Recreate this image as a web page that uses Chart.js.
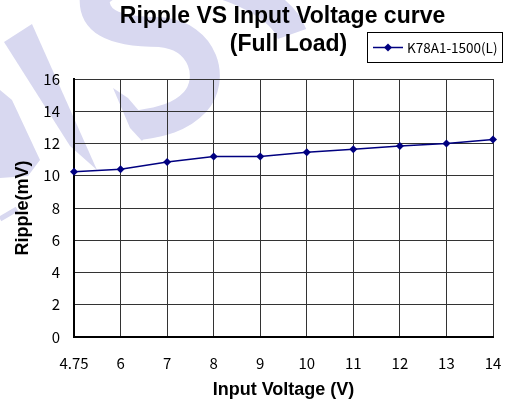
<!DOCTYPE html>
<html>
<head>
<meta charset="utf-8">
<script src="https://cdn.jsdelivr.net/npm/chart.js@4"></script>
<style>
  html, body { margin: 0; padding: 0; background: #fff; }
  #wrap { width: 506px; height: 404px; position: relative; }
</style>
</head>
<body>
<div id="wrap"><canvas id="myChart"></canvas></div>
<script>
// data
const voltages = ["4.75", "6", "7", "8", "9", "10", "11", "12", "13", "14"];
const ripple = [10.25, 10.4, 10.85, 11.2, 11.2, 11.45, 11.65, 11.85, 12.0, 12.25];
const yTicks = [0, 2, 4, 6, 8, 10, 12, 14, 16];
const seriesName = "K78A1-1500(L)";
const titleLines = ["Ripple VS Input Voltage curve", "(Full Load)"];
const xTitle = "Input Voltage (V)";
const yTitle = "Ripple(mV)";

const navy = "#000080";
const tickFont = { family: "'Noto Sans CJK JP', 'Noto Sans', sans-serif", size: 15 };

// faint "VS" watermark behind the chart
const watermarkPlugin = {
    id: "watermark",
    beforeDraw(chart) {
        const c = chart.ctx;
        c.save();
        c.fillStyle = "#d8d8f0";
        c.strokeStyle = "#d8d8f0";

        // V strokes
        c.beginPath();
        c.moveTo(4, 42); c.lineTo(32, 24); c.lineTo(97, 170); c.lineTo(70, 146);
        c.closePath(); c.fill();
        c.beginPath();
        c.moveTo(0, 90); c.lineTo(12, 100); c.lineTo(40, 160); c.lineTo(28, 176); c.lineTo(0, 178);
        c.closePath(); c.fill();
        c.lineWidth = 5;
        c.beginPath(); c.moveTo(0, 219); c.lineTo(17, 209); c.stroke();

        // S stroke
        c.lineWidth = 30;
        c.lineCap = "butt";
        c.beginPath();
        c.moveTo(292, 34);
        c.bezierCurveTo(275, -15, 140, -50, 95, -5);
        c.bezierCurveTo(92, 20, 110, 32, 160, 32);
        c.bezierCurveTo(205, 36, 215, 80, 195, 102);
        c.bezierCurveTo(180, 118, 160, 122, 140, 125);
        c.stroke();
        // S tail
        c.beginPath();
        c.moveTo(113, 88); c.lineTo(128, 98); c.lineTo(152, 126); c.lineTo(142, 141); c.lineTo(130, 128);
        c.closePath(); c.fill();
        c.restore();
    }
};

// title over the plot + boxed legend beside the second line
const decorPlugin = {
    id: "decor",
    afterDraw(chart) {
        const c = chart.ctx;
        const area = chart.chartArea;
        const cx = (area.left + area.right) / 2;
        c.save();
        c.fillStyle = "#000";
        c.textAlign = "center";
        c.textBaseline = "alphabetic";
        c.font = "bold 23px 'Liberation Sans', Arial, sans-serif";
        c.fillText(titleLines[0], cx - 1, 23);
        c.fillText(titleLines[1], cx + 5, 51);

        // legend box
        c.strokeStyle = "#000";
        c.lineWidth = 1;
        c.strokeRect(367.5, 32.5, 135, 30);
        c.strokeStyle = navy;
        c.lineWidth = 1.5;
        c.beginPath();
        c.moveTo(373, 47.5);
        c.lineTo(403, 47.5);
        c.stroke();
        c.fillStyle = navy;
        c.beginPath();
        c.moveTo(388, 43.5);
        c.lineTo(392, 47.5);
        c.lineTo(388, 51.5);
        c.lineTo(384, 47.5);
        c.closePath();
        c.fill();
        c.fillStyle = "#000";
        c.textAlign = "left";
        c.textBaseline = "middle";
        c.font = "13.5px 'Noto Sans CJK JP', 'Noto Sans', sans-serif";
        c.fillText(seriesName, 407, 48);
        c.restore();
    }
};

const ctx = document.getElementById("myChart").getContext("2d");
const myChart = new Chart(ctx, {
    type: "line",
    data: {
        labels: voltages,
        datasets: [
            {
                label: seriesName,
                data: ripple,
                borderColor: navy,
                backgroundColor: navy,
                borderWidth: 1.5,
                pointStyle: "rectRot",
                pointRadius: 4,
                pointBorderWidth: 0,
                tension: 0
            }
        ]
    },
    options: {
        responsive: true,
        maintainAspectRatio: false,
        animation: false,
        layout: { padding: { top: 79, left: 0, right: 13, bottom: 0 } },
        plugins: {
            legend: { display: false },
            title: { display: false },
            tooltip: { enabled: false }
        },
        scales: {
            x: {
                offset: false,
                grid: { color: "#333", lineWidth: 1, drawTicks: false },
                border: { color: "#000", width: 2 },
                ticks: { color: "#000", font: tickFont, padding: 17, maxRotation: 0, autoSkip: false },
                title: {
                    display: true, text: xTitle, color: "#000",
                    font: { family: "'Liberation Sans', Arial, sans-serif", size: 18, weight: "bold" },
                    padding: { top: 3, bottom: 3 }
                },
                afterFit(scale) {
                    scale.height = 67;
                    scale.paddingLeft = 0;
                    scale.paddingRight = 0;
                }
            },
            y: {
                min: 0,
                max: 16,
                grid: { color: "#333", lineWidth: 1, drawTicks: false },
                border: { color: "#000", width: 2 },
                ticks: { color: "#000", font: tickFont, padding: 14 },
                afterBuildTicks(scale) { scale.ticks = yTicks.map(v => ({ value: v })); },
                title: {
                    display: true, text: yTitle, color: "#000",
                    font: { family: "'Liberation Sans', Arial, sans-serif", size: 18, weight: "bold" },
                    padding: { top: 12, bottom: 12 }
                },
                afterFit(scale) { scale.width = 74; }
            }
        }
    },
    plugins: [watermarkPlugin, decorPlugin]
});
</script>
</body>
</html>
